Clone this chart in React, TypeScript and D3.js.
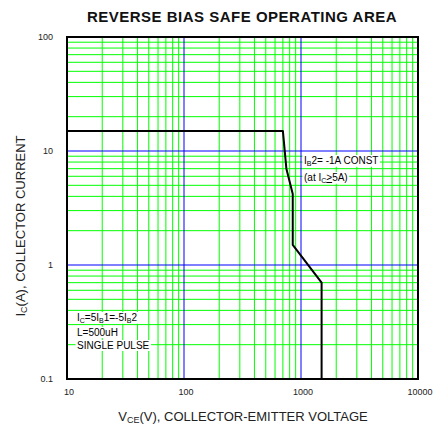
import React, { useEffect, useRef } from "react";
import * as d3 from "d3";

const xDomain = [10, 10000];
const yDomain = [0.1, 100];
const xTickValues = [10, 100, 1000, 10000];
const xTickLabels = ["10", "100", "1000", "10000"];
const yTickValues = [0.1, 1, 10, 100];
const yTickLabels = ["0.1", "1", "10", "100"];
const majorX = [100, 1000];
const majorY = [1, 10];
const minorMult = [2, 3, 4, 5, 6, 7, 8, 9];
const decadesX = [10, 100, 1000];
const decadesY = [0.1, 1, 10];
const curveV = [10, 700, 750, 850, 850, 1500, 1500];
const curveI = [15, 15, 7, 4.2, 1.5, 0.7, 0.1];

const FONT = "'Liberation Sans', Arial, Helvetica, sans-serif";

const W = 435;
const H = 430;
const L = 67;
const R = 418;
const T = 37;
const B = 379;

export default function App() {
  const annRef = useRef<SVGGElement>(null);
  const x = d3.scaleLog().domain(xDomain).range([L, R]);
  const y = d3.scaleLog().domain(yDomain).range([B, T]);

  const minorXs: number[] = [];
  decadesX.forEach((d) => minorMult.forEach((m) => minorXs.push(d * m)));
  const minorYs: number[] = [];
  decadesY.forEach((d) => minorMult.forEach((m) => minorYs.push(d * m)));

  const line = d3
    .line<number>()
    .x((_, i) => x(curveV[i]))
    .y((_, i) => y(curveI[i]));

  useEffect(() => {
    const g = d3.select(annRef.current);
    g.selectAll("*").remove();
    const addLine = (
      px: number,
      py: number,
      parts: { t: string; sub?: boolean; u?: boolean }[]
    ) => {
      const grp = g.append("g");
      const rect = grp.append("rect").attr("fill", "#fff");
      const txt = grp
        .append("text")
        .attr("x", px)
        .attr("y", py)
        .attr("font-family", FONT)
        .attr("font-size", 10)
        .attr("fill", "#000");
      parts.forEach((p) => {
        const ts = txt.append("tspan").text(p.t);
        if (p.sub) {
          ts.attr("font-size", 7).attr("baseline-shift", "-25%");
        }
        if (p.u) ts.attr("text-decoration", "underline");
      });
      const bb = (txt.node() as SVGTextElement).getBBox();
      rect
        .attr("x", bb.x - 1.5)
        .attr("y", bb.y)
        .attr("width", bb.width + 3)
        .attr("height", bb.height);
    };
    addLine(304, 164, [
      { t: "I" },
      { t: "B", sub: true },
      { t: "2= -1A CONST" },
    ]);
    addLine(304, 181, [
      { t: "(at I" },
      { t: "C", sub: true },
      { t: ">", u: true },
      { t: "5A)" },
    ]);
    addLine(77, 321, [
      { t: "I" },
      { t: "C", sub: true },
      { t: "=5I" },
      { t: "B", sub: true },
      { t: "1=-5I" },
      { t: "B", sub: true },
      { t: "2" },
    ]);
    addLine(77, 336, [{ t: "L=500uH" }]);
    addLine(77, 349, [{ t: "SINGLE PULSE" }]);
  }, []);

  return (
    <svg
      width={W}
      height={H}
      style={{ position: "absolute", left: 0, top: 0, background: "#fff" }}
      fontFamily={FONT}
    >
      <rect x={0} y={0} width={W} height={H} fill="#fff" />
      <text
        x={242}
        y={22}
        textAnchor="middle"
        fontWeight="bold"
        fontSize={15}
        letterSpacing={0.5}
        fill="#111"
      >
        REVERSE BIAS SAFE OPERATING AREA
      </text>
      {/* grid */}
      <g>
        {minorXs.map((v) => (
          <line key={"mx" + v} x1={x(v)} x2={x(v)} y1={T} y2={B} stroke="#00ff00" strokeWidth={1} />
        ))}
        {minorYs.map((v) => (
          <line key={"my" + v} x1={L} x2={R} y1={y(v)} y2={y(v)} stroke="#00ff00" strokeWidth={1} />
        ))}
        {majorX.map((v) => (
          <line key={"Mx" + v} x1={x(v)} x2={x(v)} y1={T} y2={B} stroke="#0000ff" strokeWidth={1} />
        ))}
        {majorY.map((v) => (
          <line key={"My" + v} x1={L} x2={R} y1={y(v)} y2={y(v)} stroke="#0000ff" strokeWidth={1} />
        ))}
      </g>
      <g ref={annRef} />
      <path
        d={line(curveV) || ""}
        fill="none"
        stroke="#000"
        strokeWidth={2}
        strokeLinejoin="round"
      />
      <rect x={L} y={T} width={R - L} height={B - T} fill="none" stroke="#000" strokeWidth={2} />
      {/* ticks labels */}
      {xTickValues.map((v, i) => (
        <text key={"xt" + v} x={x(v) + 2} y={395} textAnchor="middle" fontSize={9} fill="#222">
          {xTickLabels[i]}
        </text>
      ))}
      {yTickValues.map((v, i) => (
        <text key={"yt" + v} x={53} y={y(v) + 3} textAnchor="end" fontSize={9} fill="#222">
          {yTickLabels[i]}
        </text>
      ))}
      <text x={243} y={421} textAnchor="middle" fontSize={13} fill="#222">
        V<tspan fontSize={9} baselineShift="-25%">CE</tspan>(V), COLLECTOR-EMITTER VOLTAGE
      </text>
      <text
        transform={`translate(25,${226}) rotate(-90)`}
        textAnchor="middle"
        fontSize={13}
        fill="#222"
      >
        I<tspan fontSize={9} baselineShift="-25%">C</tspan>(A), COLLECTOR CURRENT
      </text>
    </svg>
  );
}
